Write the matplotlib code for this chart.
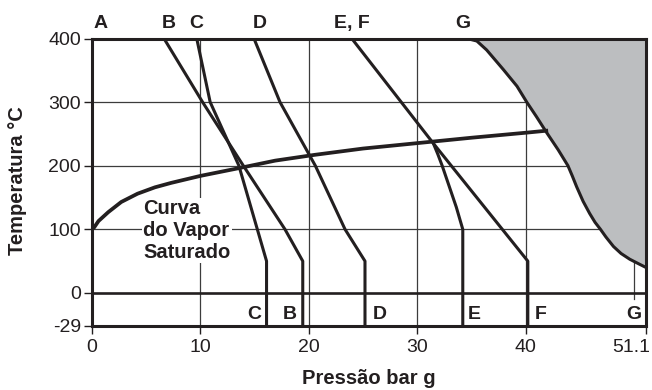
import numpy as np
import matplotlib
matplotlib.use('Agg')
import matplotlib.pyplot as plt
from matplotlib.transforms import ScaledTranslation

plt.rcParams['font.family'] = ['Liberation Sans', 'DejaVu Sans']

# ── Dados (pressão bar g, temperatura °C) ─────────────────────────────────────
sat_p = [0, 0.2, 0.6, 1.5, 2.7, 4.2, 5.8, 7.3, 10, 13.5, 16.9, 20.5, 25, 30.3, 35, 40.1, 41.9]
sat_t = [100, 103, 113, 127, 143, 156, 166, 173, 184, 196, 208, 217, 227, 236, 244, 252, 255]

b_p = [6.64, 10.2, 13.96, 17.8, 19.44, 19.44]
b_t = [400, 300, 200, 100, 50, -29]

c_p = [9.66, 10.9, 13.55, 15.25, 16.1, 16.1]
c_t = [400, 300, 200, 100, 50, -29]

d_p = [14.94, 17.34, 20.6, 23.34, 25.18, 25.18]
d_t = [400, 300, 200, 100, 50, -29]

f_p = [23.96, 31.49, 40.2, 40.2]
f_t = [400, 235, 50, -29]

e_p = [31.49, 31.9, 32.3, 32.9, 33.6, 34.2, 34.2]
e_t = [235, 218, 200, 170, 135, 100, -29]

g_p = [34.6, 35.5, 36.4, 37.95, 39.2, 40.1, 41.0, 41.9, 43.0, 43.9, 44.3, 44.7,
       45.3, 45.9, 46.4, 46.9, 47.4, 48.1, 48.8, 49.6, 50.4, 51.1]
g_t = [400, 396, 382, 351, 325, 300, 277, 253, 225, 200, 184, 167,
       144, 125, 111, 100, 88, 73, 62, 53, 46, 40]

x_ticks = [0, 10, 20, 30, 40, 51.1]
x_labels = ['0', '10', '20', '30', '40', '51.1']
y_ticks = [-29, 0, 100, 200, 300, 400]
y_labels = ['-29', '0', '100', '200', '300', '400']

top_labels = ['A', 'B', 'C', 'D', 'E, F', 'G']
top_pos = [0.78, 7.1, 9.6, 15.45, 24.0, 34.2]
bot_labels = ['C', 'B', 'D', 'E', 'F', 'G']
bot_pos = [15.0, 18.27, 26.57, 35.3, 41.4, 49.95]

# ── Escala: faixa de 0 a -29 esticada ────────────────────────────────────────
K = 52 / 29


def fwd(y):
    y = np.asarray(y, dtype=float)
    return np.where(y < 0, y * K, y)


def inv(y):
    y = np.asarray(y, dtype=float)
    return np.where(y < 0, y / K, y)


INK = '#231f20'
GRID = '#3c3c3c'

fig = plt.figure(figsize=(6.52, 3.9), dpi=100)
ax = fig.add_axes([92 / 652, 64 / 390, 554 / 652, 287.5 / 390])
ax.set_yscale('function', functions=(fwd, inv))
ax.set_xlim(0, 51.1)
ax.set_ylim(-29, 400)

# grade
for xv in [10, 20, 30, 40]:
    ax.plot([xv, xv], [-29, 400], color=GRID, lw=0.9, zorder=1)
ax.plot([50, 50], [-5, 400], color=GRID, lw=0.9, zorder=1)
for yv in [100, 200, 300]:
    ax.plot([0, 51.1], [yv, yv], color=GRID, lw=0.9, zorder=1)
ax.plot([0, 51.1], [0, 0], color=INK, lw=1.9, zorder=2)

# região cinza
ax.fill_betweenx(g_t, g_p, 51.1, color='#bcbec0', lw=0, zorder=2)

# curvas
for px, ty in [(b_p, b_t), (c_p, c_t), (d_p, d_t), (f_p, f_t), (e_p, e_t), (g_p, g_t)]:
    ax.plot(px, ty, color=INK, lw=2.2, zorder=4)
ax.plot(sat_p, sat_t, color=INK, lw=2.7, zorder=4)

ax.text(4.73, 147, 'Curva\ndo Vapor\nSaturado', fontsize=14.5, fontweight='bold',
        color=INK, ha='left', va='top', linespacing=1.17, zorder=3,
        bbox=dict(facecolor='white', edgecolor='none', pad=1))

for lab, xp in zip(top_labels, top_pos):
    ax.text(xp, 1.053, lab, transform=ax.get_xaxis_transform(), fontsize=14,
            fontweight='bold', color=INK, ha='center', va='center')
for lab, xp in zip(bot_labels, bot_pos):
    ax.text(xp, -18.7, lab, fontsize=14, fontweight='bold', color=INK,
            ha='center', va='center', zorder=5)

# eixos
for s in ax.spines.values():
    s.set_linewidth(2.2)
    s.set_color(INK)
    s.set_zorder(6)
ax.set_xticks(x_ticks, x_labels)
ax.set_yticks(y_ticks, y_labels)
ax.minorticks_off()
ax.tick_params(axis='both', direction='out', length=6, width=1, color=INK,
               labelsize=14, labelcolor=INK)
ax.tick_params(axis='y', pad=2)
ax.tick_params(axis='x', pad=3)

# "51.1" deslocado para a esquerda, como no original
last = ax.get_xticklabels()[-1]
last.set_transform(last.get_transform() + ScaledTranslation(-0.15, 0, fig.dpi_scale_trans))

ax.set_xlabel('Pressão bar g', fontsize=14.5, fontweight='bold', color=INK)
ax.set_ylabel('Temperatura °C', fontsize=14.5, fontweight='bold', color=INK)
ax.xaxis.set_label_coords(0.5, -0.15)
ax.yaxis.set_label_coords(-0.117, 0.506)

fig.savefig('out.png', dpi=100)
